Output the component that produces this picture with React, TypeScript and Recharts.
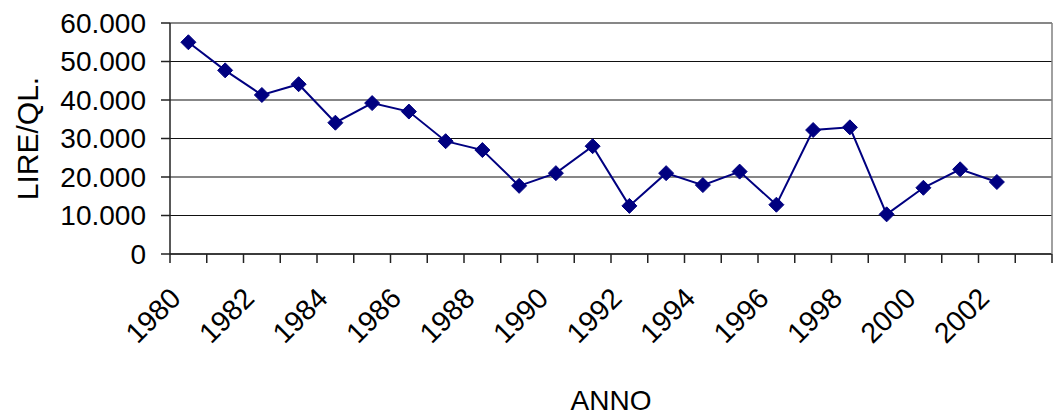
import { LineChart, Line, XAxis, YAxis, CartesianGrid, Label } from 'recharts'

const categories = [
  1980, 1981, 1982, 1983, 1984, 1985, 1986, 1987, 1988, 1989, 1990, 1991,
  1992, 1993, 1994, 1995, 1996, 1997, 1998, 1999, 2000, 2001, 2002, 2003,
]
const years = [
  1980, 1981, 1982, 1983, 1984, 1985, 1986, 1987, 1988, 1989, 1990, 1991,
  1992, 1993, 1994, 1995, 1996, 1997, 1998, 1999, 2000, 2001, 2002,
]
const prices = [
  55000, 47700, 41300, 44100, 34100, 39200, 37000, 29300, 27000, 17700, 21000, 28000,
  12500, 21000, 17900, 21400, 12800, 32200, 32900, 10300, 17200, 22000, 18700,
]
const labelYears = [1980, 1982, 1984, 1986, 1988, 1990, 1992, 1994, 1996, 1998, 2000, 2002]
const yTicks = [0, 10000, 20000, 30000, 40000, 50000, 60000]

const FONT = '"Liberation Sans", Arial, sans-serif'
const NAVY = '#000080'

const data = years.map((year, i) => ({ year, price: prices[i] }))
const boundaries = categories.map((c) => c - 0.5).concat(categories[categories.length - 1] + 0.5)
const domain = [boundaries[0], boundaries[boundaries.length - 1]]

const fmt = (v: number) => (v === 0 ? '0' : `${v / 1000}.000`)

function XTick({ x, y, payload }: any) {
  const v = payload.value
  if (!Number.isInteger(v)) {
    return <line x1={x} x2={x} y1={y - 9} y2={y} stroke="#222" strokeWidth={1.5} />
  }
  const tx = x - 6
  const ty = y + 37
  return (
    <text
      x={tx}
      y={ty}
      textAnchor="end"
      transform={`rotate(-45 ${tx} ${ty})`}
      fontSize={28.5}
      fontFamily={FONT}
      fill="#000"
    >
      {v}
    </text>
  )
}

function Diamond({ cx, cy, index }: any) {
  if (cx == null || cy == null) return null
  const r = 7.5
  return (
    <path
      key={`d-${index}`}
      d={`M${cx},${cy - r}L${cx + r},${cy}L${cx},${cy + r}L${cx - r},${cy}Z`}
      fill={NAVY}
      stroke={NAVY}
    />
  )
}

export default function App() {
  return (
    <div style={{ position: 'absolute', left: 0, top: 0, background: '#fff' }}>
      <LineChart width={1053} height={416} data={data} margin={{ top: 23, right: 0, left: 0, bottom: 0 }}>
        <CartesianGrid vertical={false} stroke="#111" strokeWidth={1.2} />
        <XAxis
          type="number"
          dataKey="year"
          domain={domain}
          ticks={[...boundaries, ...labelYears]}
          interval={0}
          tickSize={9}
          tickMargin={0}
          tickLine={false}
          tick={<XTick />}
          axisLine={{ stroke: '#222', strokeWidth: 1.5 }}
          height={162}
        >
          <Label
            content={({ viewBox }: any) => (
              <text
                x={viewBox.x + viewBox.width / 2}
                y={viewBox.y + 156}
                textAnchor="middle"
                fontSize={28}
                fontFamily={FONT}
                fill="#000"
              >
                ANNO
              </text>
            )}
          />
        </XAxis>
        <XAxis
          xAxisId="top"
          orientation="top"
          type="number"
          dataKey="year"
          domain={domain}
          tick={false}
          tickLine={false}
          axisLine={{ stroke: '#808080', strokeWidth: 1.5 }}
          height={0}
        />
        <YAxis
          type="number"
          domain={[0, 60000]}
          ticks={yTicks}
          interval={0}
          tickFormatter={fmt}
          tickSize={9}
          tickMargin={15}
          tickLine={{ stroke: '#222', strokeWidth: 1.5 }}
          axisLine={{ stroke: '#222', strokeWidth: 1.5 }}
          tick={{ fontSize: 28, fontFamily: FONT, fill: '#000' }}
          width={170}
        >
          <Label
            content={({ viewBox }: any) => {
              const lx = 38
              const ly = viewBox.y + viewBox.height / 2
              return (
                <text
                  x={lx}
                  y={ly}
                  textAnchor="middle"
                  transform={`rotate(-90 ${lx} ${ly})`}
                  fontSize={30}
                  fontFamily={FONT}
                  fill="#000"
                >
                  LIRE/QL.
                </text>
              )
            }}
          />
        </YAxis>
        <YAxis
          yAxisId="right"
          orientation="right"
          domain={[0, 60000]}
          tick={false}
          tickLine={false}
          axisLine={{ stroke: '#808080', strokeWidth: 1.5 }}
          width={1}
        />
        <Line
          type="linear"
          dataKey="price"
          stroke={NAVY}
          strokeWidth={2}
          dot={(p: any) => <Diamond key={`dot-${p.index}`} {...p} />}
          activeDot={false}
          isAnimationActive={false}
        />
      </LineChart>
    </div>
  )
}
